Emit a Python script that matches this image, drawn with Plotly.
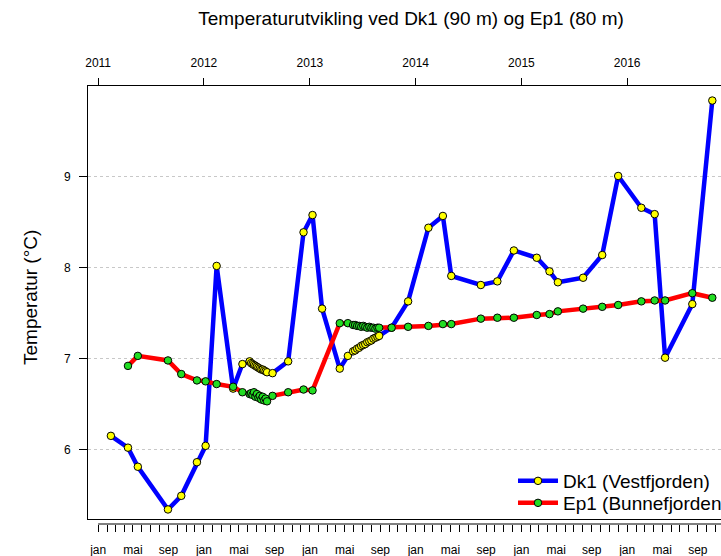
import plotly.graph_objects as go

# ---------------- data ----------------
dk1_dates = [
    "2011-02-14", "2011-04-14", "2011-05-18", "2011-08-30", "2011-10-15", "2011-12-08",
    "2012-01-07", "2012-02-14", "2012-04-11", "2012-05-13", "2012-06-07",
    "2012-06-12", "2012-06-17", "2012-06-22", "2012-06-27", "2012-07-02", "2012-07-07",
    "2012-07-12", "2012-07-17", "2012-07-22", "2012-07-27", "2012-08-01", "2012-08-06",
    "2012-08-25", "2012-10-18", "2012-12-10", "2013-01-10", "2013-02-12", "2013-04-14",
    "2013-05-12",
    "2013-05-30", "2013-06-06", "2013-06-13", "2013-06-20", "2013-06-27", "2013-07-04",
    "2013-07-11", "2013-07-18", "2013-07-25", "2013-08-01", "2013-08-08", "2013-08-15",
    "2013-08-22",
    "2013-08-28", "2013-10-10", "2013-12-06", "2014-02-14", "2014-04-05", "2014-05-04",
    "2014-08-14", "2014-10-10", "2014-12-06", "2015-02-23", "2015-04-08", "2015-05-07",
    "2015-08-02", "2015-10-07", "2015-12-01", "2016-02-19", "2016-04-05", "2016-05-11",
    "2016-08-13", "2016-10-21",
]
dk1_temp = [
    6.15, 6.02, 5.81, 5.34, 5.49, 5.86,
    6.04, 8.02, 6.67, 6.94, 6.97,
    6.95, 6.94, 6.93, 6.92, 6.91, 6.90,
    6.89, 6.88, 6.88, 6.87, 6.86, 6.85,
    6.84, 6.97, 8.39, 8.58, 7.55, 6.89,
    7.03,
    7.08, 7.09, 7.11, 7.12, 7.14, 7.15,
    7.16, 7.18, 7.19, 7.20, 7.22, 7.23,
    7.24,
    7.25, 7.34, 7.63, 8.44, 8.57, 7.91,
    7.81, 7.85, 8.19, 8.11, 7.96, 7.84,
    7.89, 8.14, 9.01, 8.66, 8.59, 7.01,
    7.60, 9.84,
]

ep1_dates = [
    "2011-04-14", "2011-05-18", "2011-08-30", "2011-10-15", "2011-12-08",
    "2012-01-07", "2012-02-14", "2012-04-11", "2012-05-13", "2012-06-07",
    "2012-06-12", "2012-06-17", "2012-06-22", "2012-06-27", "2012-07-02", "2012-07-07",
    "2012-07-12", "2012-07-17", "2012-07-22", "2012-07-27", "2012-08-01", "2012-08-06",
    "2012-08-25", "2012-10-18", "2012-12-10", "2013-01-10", "2013-04-14",
    "2013-05-12",
    "2013-05-30", "2013-06-06", "2013-06-13", "2013-06-20", "2013-06-27", "2013-07-04",
    "2013-07-11", "2013-07-18", "2013-07-25", "2013-08-01", "2013-08-08", "2013-08-15",
    "2013-08-22",
    "2013-08-28", "2013-10-10", "2013-12-06", "2014-02-14", "2014-04-05", "2014-05-04",
    "2014-08-14", "2014-10-10", "2014-12-06", "2015-02-23", "2015-04-08", "2015-05-07",
    "2015-08-02", "2015-10-07", "2015-12-01", "2016-02-19", "2016-04-05", "2016-05-11",
    "2016-08-13", "2016-10-21",
]
ep1_temp = [
    6.92, 7.03, 6.98, 6.83, 6.76,
    6.75, 6.72, 6.69, 6.63, 6.61,
    6.62, 6.60, 6.63, 6.58, 6.61, 6.57,
    6.59, 6.55, 6.58, 6.54, 6.56, 6.53,
    6.59, 6.63, 6.66, 6.65, 7.39,
    7.39,
    7.37, 7.37, 7.36, 7.36, 7.35, 7.36,
    7.35, 7.34, 7.35, 7.34, 7.34, 7.33,
    7.34,
    7.34, 7.34, 7.35, 7.36, 7.38, 7.38,
    7.44, 7.45, 7.45, 7.48, 7.49, 7.52,
    7.55, 7.57, 7.59, 7.63, 7.64, 7.64,
    7.72, 7.67,
]

year_ticks = ["2011-01-01", "2012-01-01", "2013-01-01", "2014-01-01", "2015-01-01", "2016-01-01"]
year_labels = ["2011", "2012", "2013", "2014", "2015", "2016"]
month_labels = ["jan", "", "", "", "mai", "", "", "", "sep", "", "", ""]
years = [2011, 2012, 2013, 2014, 2015, 2016]
y_ticks = [6, 7, 8, 9]

month_ticks = []
month_text = []
for yr in years:
    for mi in range(12):
        month_ticks.append(f"{yr}-{mi + 1:02d}-01")
        month_text.append(month_labels[mi])

FONT = "Liberation Sans, Arial, sans-serif"
x_range = ["2010-11-27", "2016-11-20"]
y_range = [5.235, 10.0]

H = 556
W = 721
plot_left = 88
plot_top = 86
paper_bottom = 524
box_bottom = 519
PW = W - plot_left
PH = paper_bottom - plot_top
dom0 = (paper_bottom - box_bottom) / PH


def px_x(px):
    return (px - plot_left) / PW


def px_y(py):
    return (paper_bottom - py) / PH


fig = go.Figure()
fig.add_trace(go.Scatter(
    x=dk1_dates, y=dk1_temp, mode="lines+markers", name="Dk1 (Vestfjorden)",
    line=dict(color="#0000FF", width=4.5), legend="legend",
    marker=dict(symbol="circle", size=7.5, color="#FFFF00", line=dict(color="#000000", width=1)),
))
fig.add_trace(go.Scatter(
    x=ep1_dates, y=ep1_temp, mode="lines+markers", name="Ep1 (Bunnefjorden)",
    line=dict(color="#FF0000", width=4.5), legend="legend2",
    marker=dict(symbol="circle", size=7.5, color="#22DD22", line=dict(color="#000000", width=1)),
))

leg_common = dict(xanchor="left", yanchor="middle", bgcolor="rgba(0,0,0,0)",
                  font=dict(size=19, family=FONT, color="#000000"),
                  itemwidth=40, borderwidth=0)

fig.update_layout(
    width=W, height=H,
    margin=dict(l=plot_left, r=0, t=plot_top, b=H - paper_bottom, pad=0, autoexpand=False),
    paper_bgcolor="white", plot_bgcolor="white",
    font=dict(family=FONT, color="#000000", size=12),
    title=dict(text="Temperaturutvikling ved Dk1 (90 m) og Ep1 (80 m)",
               x=411 / W, xanchor="center", xref="container",
               y=1 - 18 / H, yanchor="middle", yref="container",
               font=dict(size=19, family=FONT, color="#000000")),
    showlegend=True,
    legend=dict(x=px_x(513), y=px_y(481), **leg_common),
    legend2=dict(x=px_x(513), y=px_y(503), **leg_common),
    xaxis=dict(type="date", range=x_range, showgrid=False, zeroline=False,
               showline=True, linecolor="#000000", linewidth=1, mirror=False,
               ticks="", showticklabels=False, anchor="y"),
    xaxis2=dict(type="date", range=x_range, overlaying="x", side="top", anchor="y",
                showgrid=False, zeroline=False, showline=True, linecolor="#000000", linewidth=1,
                tickmode="array", tickvals=year_ticks, ticktext=year_labels,
                ticks="outside", ticklen=7, tickcolor="#000000", ticklabelstandoff=6,
                tickfont=dict(size=12, family=FONT, color="#000000")),
    xaxis3=dict(type="date", range=x_range, overlaying="x", side="bottom", anchor="free",
                position=0, showgrid=False, zeroline=False, showline=False,
                tickmode="array", tickvals=month_ticks, ticktext=month_text,
                ticks="outside", ticklen=7, tickcolor="#000000", ticklabelstandoff=8,
                tickfont=dict(size=12, family=FONT, color="#000000")),
    yaxis=dict(range=y_range, domain=[dom0, 1], showgrid=True, gridcolor="#C8C8C8",
               griddash="dot", gridwidth=1, zeroline=False,
               showline=True, linecolor="#000000", linewidth=1,
               tickmode="array", tickvals=y_ticks, ticks="outside", ticklen=8,
               tickcolor="#000000", ticklabelstandoff=6,
               tickfont=dict(size=12, family=FONT, color="#000000")),
)

# detached bottom axis line spanning the month ticks
fig.add_shape(type="line", xref="x", yref="paper", x0=month_ticks[0], x1=month_ticks[-1],
              y0=0, y1=0, line=dict(color="#000000", width=1))

# y-axis title
fig.add_annotation(text="Temperatur (\u00b0C)", textangle=-90, showarrow=False,
                   xref="paper", yref="paper", x=px_x(30), y=px_y(298),
                   xanchor="center", yanchor="middle",
                   font=dict(size=19, family=FONT, color="#000000"))

# dummy traces so xaxis2/xaxis3 are drawn
fig.add_trace(go.Scatter(x=[x_range[0]], y=[None], xaxis="x2", showlegend=False, hoverinfo="skip"))
fig.add_trace(go.Scatter(x=[x_range[0]], y=[None], xaxis="x3", showlegend=False, hoverinfo="skip"))

fig.write_html("out.html")
